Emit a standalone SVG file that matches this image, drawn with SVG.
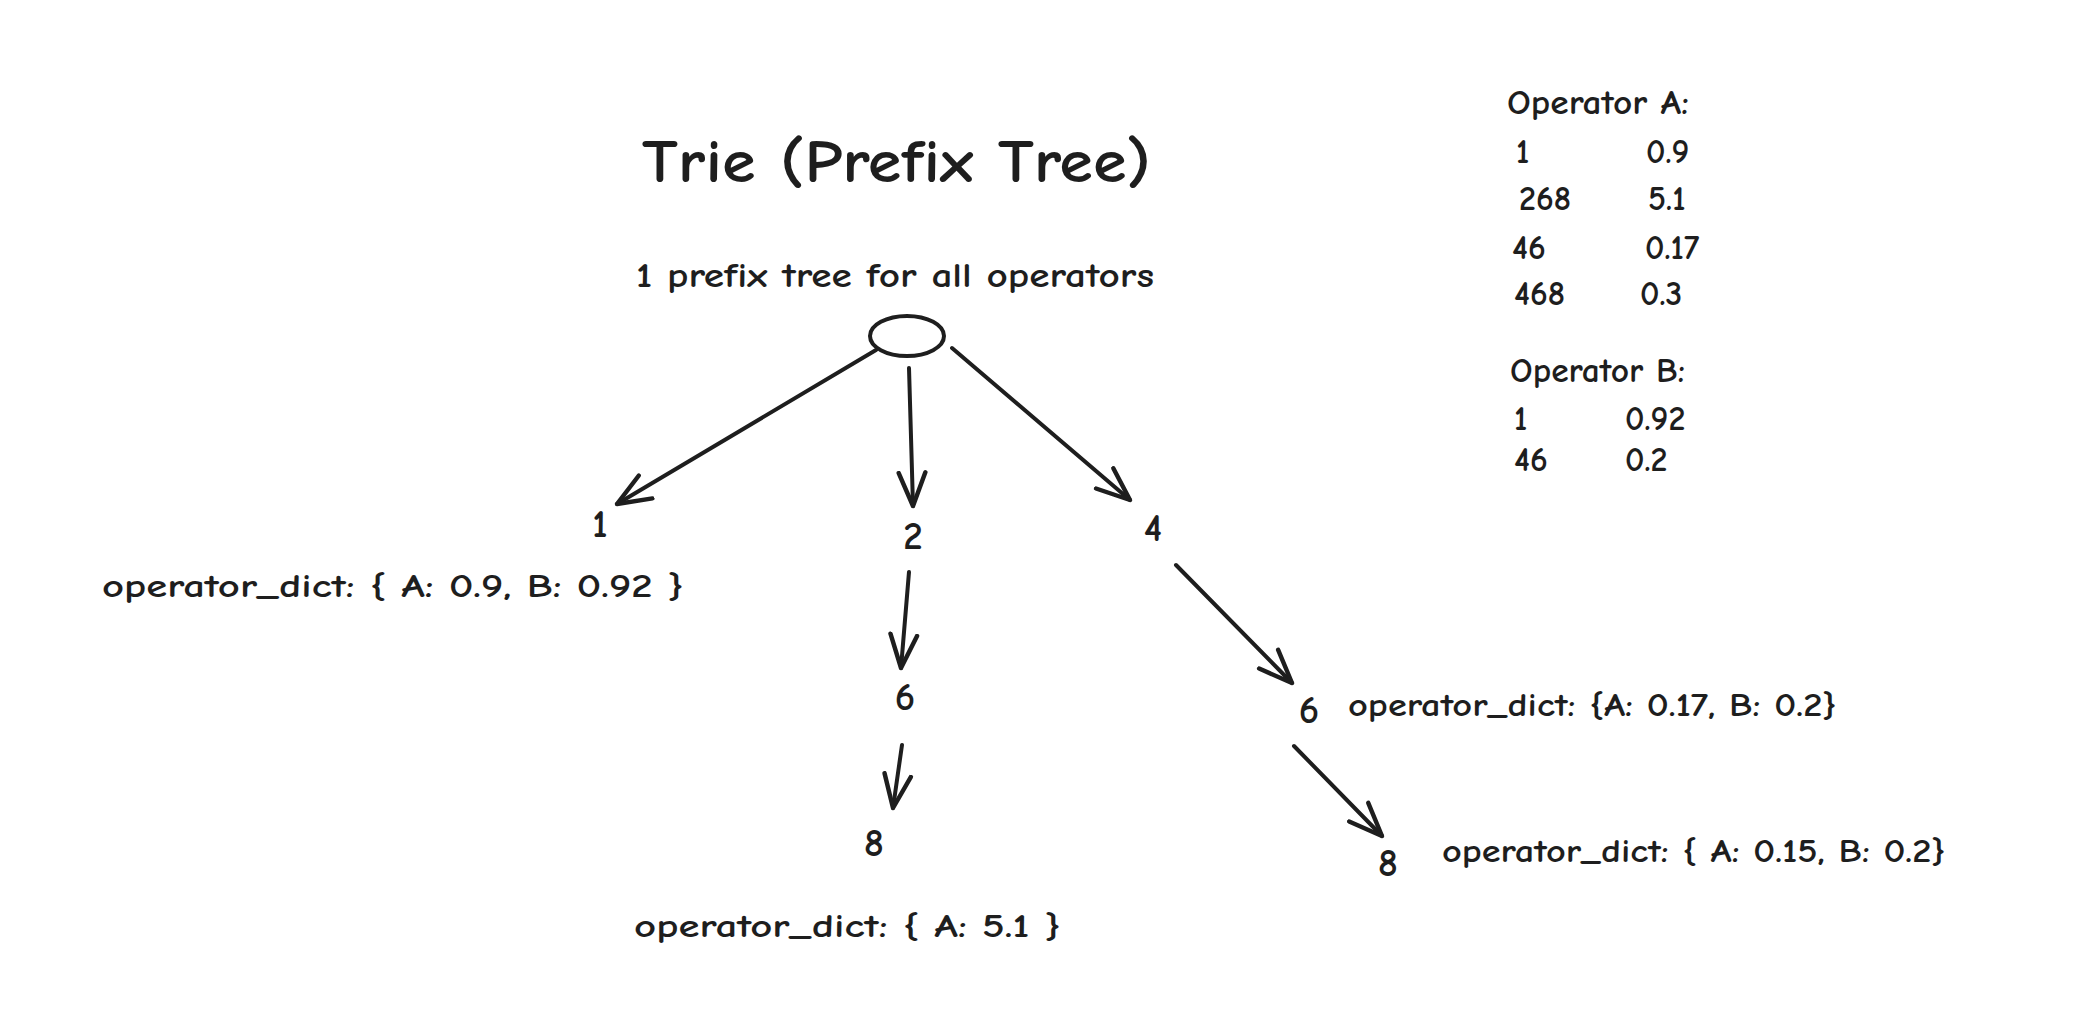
<svg xmlns="http://www.w3.org/2000/svg" width="2080" height="1026" viewBox="0 0 2080 1026">
<defs>
<style>
text{font-family:"Comic Neue","Liberation Sans","Noto Sans",sans-serif;fill:#1e1e1e;font-weight:700}
.title{font-size:60px}
.sub{font-size:35px}
.node{font-size:39px;text-anchor:middle}
.lbl{font-size:32px}
.tbl{font-size:34px}
.edge{fill:none;stroke:#1e1e1e;stroke-width:4;stroke-linecap:round;marker-end:url(#ah)}
</style>
<marker id="ah" markerUnits="userSpaceOnUse" markerWidth="40" markerHeight="40" viewBox="-32 -16 36 32" refX="0" refY="0" orient="auto">
<path d="M-30,-12 L0,0 L-30,12" fill="none" stroke="#1e1e1e" stroke-width="4" stroke-linecap="round" stroke-linejoin="round"/>
</marker>
</defs>
<rect width="2080" height="1026" fill="#ffffff"/>
<g id="title"><text class="title" x="642" y="182" textLength="509" lengthAdjust="spacingAndGlyphs">Trie (Prefix Tree)</text></g>
<g id="subtitle"><text class="sub" x="636" y="287" textLength="518" lengthAdjust="spacingAndGlyphs">1 prefix tree for all operators</text></g>
<g id="root"><ellipse cx="907" cy="336" rx="37" ry="20" fill="none" stroke="#1e1e1e" stroke-width="4"/></g>
<g id="connectors">
<path class="edge" d="M876,350 L617,504"/>
<path class="edge" d="M909,368 L913,506"/>
<path class="edge" d="M952,348 L1130,500"/>
<path class="edge" d="M909,572 L901,668"/>
<path class="edge" d="M902,745 L893,808"/>
<path class="edge" d="M1176,565 L1292,683"/>
<path class="edge" d="M1294,746 L1382,836"/>
</g>
<g id="n1"><text class="node" x="600" y="537">1</text></g>
<g id="n1-label"><text class="lbl" x="102" y="597" textLength="582" lengthAdjust="spacingAndGlyphs">operator_dict: { A: 0.9, B: 0.92 }</text></g>
<g id="n2"><text class="node" x="913" y="549">2</text></g>
<g id="n4"><text class="node" x="1153" y="541">4</text></g>
<g id="n26"><text class="node" x="905" y="710">6</text></g>
<g id="n268"><text class="node" x="874" y="856">8</text></g>
<g id="n268-label"><text class="lbl" x="634" y="937" textLength="427" lengthAdjust="spacingAndGlyphs">operator_dict: { A: 5.1 }</text></g>
<g id="n46"><text class="node" x="1309" y="723">6</text></g>
<g id="n46-label"><text class="lbl" x="1348" y="716" textLength="489" lengthAdjust="spacingAndGlyphs">operator_dict: {A: 0.17, B: 0.2}</text></g>
<g id="n468"><text class="node" x="1388" y="876">8</text></g>
<g id="n468-label"><text class="lbl" x="1442" y="862" textLength="504" lengthAdjust="spacingAndGlyphs">operator_dict: { A: 0.15, B: 0.2}</text></g>
<g id="table-a">
<text class="tbl" x="1507" y="114" textLength="182" lengthAdjust="spacingAndGlyphs">Operator A:</text>
<text class="tbl" x="1516" y="163">1</text><text class="tbl" x="1646" y="163">0.9</text>
<text class="tbl" x="1519" y="210">268</text><text class="tbl" x="1648" y="210">5.1</text>
<text class="tbl" x="1512" y="259">46</text><text class="tbl" x="1645" y="259">0.17</text>
<text class="tbl" x="1514" y="305">468</text><text class="tbl" x="1640" y="305">0.3</text>
</g>
<g id="table-b">
<text class="tbl" x="1510" y="382" textLength="175" lengthAdjust="spacingAndGlyphs">Operator B:</text>
<text class="tbl" x="1514" y="430">1</text><text class="tbl" x="1625" y="430">0.92</text>
<text class="tbl" x="1514" y="471">46</text><text class="tbl" x="1625" y="471">0.2</text>
</g>
</svg>
